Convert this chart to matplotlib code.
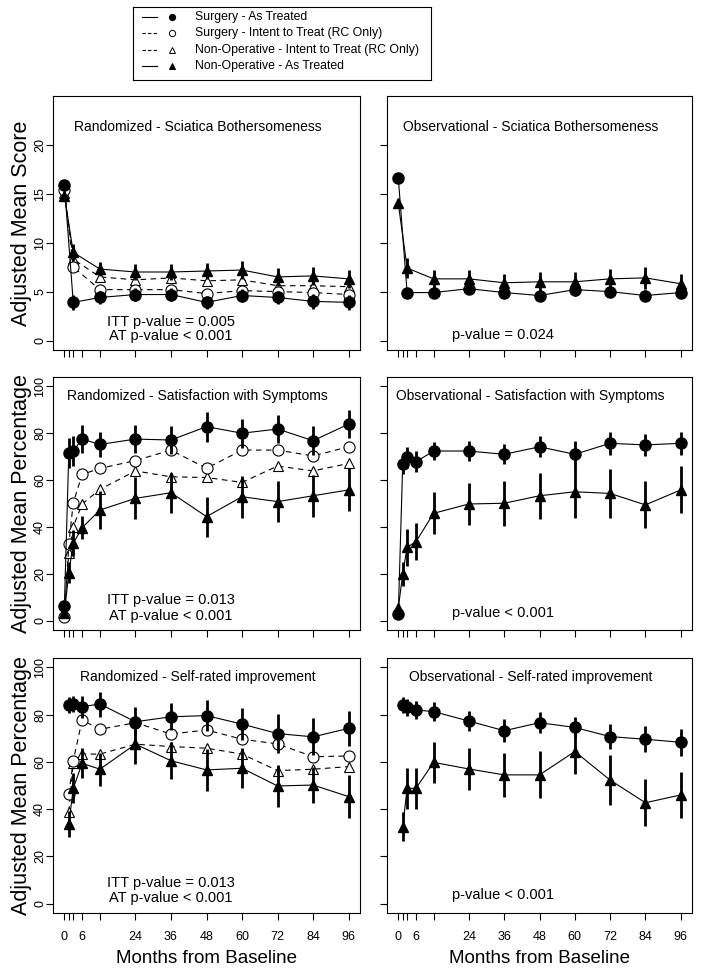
import matplotlib
matplotlib.use("Agg")
import matplotlib.pyplot as plt

plt.rcParams["font.family"] = ["Liberation Sans", "DejaVu Sans"]

# ── time points (months) ─────────────────────────────────────────────────────
MONTHS_SCI = [0, 3, 12, 24, 36, 48, 60, 72, 84, 96]
MONTHS_SAT = [0, 1.5, 3, 6, 12, 24, 36, 48, 60, 72, 84, 96]
MONTHS_IMP = [1.5, 3, 6, 12, 24, 36, 48, 60, 72, 84, 96]

XTICKS = [0, 1.5, 3, 6, 12, 24, 36, 48, 60, 72, 84, 96]
XTICK_LABELS = ["0", "", "", "6", "", "24", "36", "48", "60", "72", "84", "96"]

# ── randomized cohort: sciatica bothersomeness ──────────────────────────────
rs_surg_at = [15.9, 3.9, 4.4, 4.7, 4.7, 3.9, 4.6, 4.4, 4.0, 3.9]
rs_surg_at_err = [0.4, 0.8, 0.7, 0.7, 0.7, 0.7, 0.7, 0.7, 0.8, 0.8]
rs_surg_itt = [15.4, 7.5, 5.2, 5.2, 5.2, 4.8, 5.1, 5.0, 4.9, 4.7]
rs_nonop_itt = [15.1, 8.3, 6.5, 6.2, 6.4, 6.1, 6.2, 5.6, 5.6, 5.5]
rs_nonop_at = [14.8, 9.0, 7.3, 7.0, 7.0, 7.1, 7.2, 6.5, 6.6, 6.3]
rs_nonop_at_err = [0.4, 0.9, 0.7, 0.8, 0.8, 0.8, 0.9, 0.9, 0.9, 0.9]

# ── observational cohort: sciatica bothersomeness ───────────────────────────
os_surg = [16.6, 4.9, 4.9, 5.3, 4.9, 4.6, 5.2, 5.0, 4.6, 4.9]
os_surg_err = [0.3, 0.5, 0.5, 0.5, 0.5, 0.6, 0.6, 0.6, 0.6, 0.6]
os_nonop = [14.0, 7.4, 6.3, 6.3, 5.9, 6.0, 6.0, 6.3, 6.4, 5.8]
os_nonop_err = [0.5, 1.0, 0.9, 0.9, 0.9, 1.0, 1.0, 1.0, 1.1, 1.0]

# ── randomized cohort: satisfaction with symptoms ───────────────────────────
rsat_surg_at = [6.2, 71.7, 72.4, 77.5, 75.2, 77.5, 77.1, 82.8, 80.0, 81.8, 76.8, 83.9]
rsat_surg_at_err = [2.5, 6.4, 6.4, 6.0, 5.5, 6.0, 6.0, 6.4, 6.2, 6.0, 6.3, 6.0]
rsat_surg_itt = [1.7, 32.6, 50.3, 62.4, 65.0, 68.3, 72.8, 65.0, 72.8, 72.8, 70.3, 74.2]
rsat_nonop_itt = [3.8, 29.0, 40.1, 49.8, 56.0, 63.9, 61.4, 61.1, 59.0, 66.0, 63.9, 67.1]
rsat_nonop_at = [3.1, 20.5, 33.0, 39.7, 47.2, 52.2, 54.6, 44.4, 52.9, 50.8, 53.3, 55.8]
rsat_nonop_at_err = [2.0, 4.5, 5.5, 5.0, 8.2, 8.9, 8.6, 8.5, 8.9, 8.7, 8.9, 9.2]

# ── observational cohort: satisfaction with symptoms ────────────────────────
osat_surg = [2.8, 66.8, 69.7, 67.8, 72.4, 72.4, 71.0, 74.2, 71.0, 75.7, 75.0, 75.7]
osat_surg_err = [1.5, 4.0, 4.5, 4.5, 4.0, 4.3, 4.3, 4.5, 5.5, 4.8, 4.8, 4.8]
osat_nonop = [5.3, 19.9, 31.3, 33.7, 45.8, 49.8, 50.1, 53.3, 55.0, 54.3, 49.4, 55.8]
osat_nonop_err = [2.0, 5.3, 7.8, 8.0, 9.0, 9.1, 9.5, 9.8, 11.0, 10.5, 10.0, 10.0]

# ── randomized cohort: self-rated improvement ───────────────────────────────
rimp_surg_at = [84.1, 84.5, 83.4, 84.5, 77.0, 79.1, 79.6, 76.0, 72.0, 70.6, 74.2]
rimp_surg_at_err = [3.2, 3.2, 4.6, 5.3, 6.2, 5.8, 6.7, 6.9, 8.1, 7.8, 7.4]
rimp_surg_itt = [46.4, 60.5, 77.7, 73.8, 76.6, 71.8, 73.5, 69.6, 67.6, 62.2, 62.5]
rimp_nonop_itt = [38.9, 59.5, 63.3, 63.3, 67.5, 66.5, 65.8, 63.3, 56.3, 56.9, 58.0]
rimp_nonop_at = [33.7, 48.8, 59.4, 56.9, 67.5, 60.5, 56.6, 57.3, 49.8, 50.2, 45.3]
rimp_nonop_at_err = [5.3, 6.4, 6.4, 7.0, 8.5, 7.8, 8.8, 8.5, 8.8, 7.8, 9.2]

# ── observational cohort: self-rated improvement ────────────────────────────
oimp_surg = [84.1, 83.1, 82.0, 81.3, 77.3, 73.2, 76.6, 74.6, 70.7, 69.6, 68.3]
oimp_surg_err = [3.5, 3.5, 3.8, 4.0, 4.4, 4.8, 4.5, 4.5, 5.2, 5.4, 5.6]
oimp_nonop = [32.6, 48.8, 48.8, 59.8, 57.0, 54.5, 54.5, 64.4, 52.3, 42.7, 46.0]
oimp_nonop_err = [6.1, 8.8, 8.8, 8.8, 9.0, 9.3, 10.0, 9.5, 10.6, 9.9, 9.9]

LEGEND_LABELS = [
    "Surgery - As Treated",
    "Surgery - Intent to Treat (RC Only)",
    "Non-Operative - Intent to Treat (RC Only)",
    "Non-Operative - As Treated",
]


def at_series(ax, x, y, err, marker):
    ms = 8 if marker == "o" else 7.2
    ax.vlines(x, [a - e for a, e in zip(y, err)], [a + e for a, e in zip(y, err)],
              color="black", linewidth=2.0, zorder=3)
    ax.plot(x, y, color="black", linewidth=0.8, marker=marker, markersize=ms,
            markerfacecolor="black", markeredgecolor="black", zorder=4)


def itt_series(ax, x, y, marker, ms):
    ax.plot(x, y, color="black", linewidth=0.8, linestyle=(0, (5, 4)),
            marker=marker, markersize=ms, markerfacecolor="white",
            markeredgecolor="black", markeredgewidth=0.8, zorder=2)


def setup(ax, ylim, yticks, ylabel=None, xlabel=False):
    ax.set_xlim(-3.84, 99.84)
    ax.set_ylim(*ylim)
    ax.set_xticks(XTICKS)
    ax.set_xticklabels(XTICK_LABELS if xlabel else [""] * len(XTICKS))
    ax.set_yticks(yticks)
    if ylabel:
        ax.set_yticklabels([str(t) for t in yticks], rotation=90, va="center")
        ax.set_ylabel(ylabel, fontsize=15.5)
        ax.yaxis.set_label_coords(-0.07, 0.5)
    else:
        ax.set_yticklabels([""] * len(yticks))
    if xlabel:
        ax.set_xlabel("Months from Baseline", fontsize=13.5)
        ax.xaxis.set_label_coords(0.5, -0.145)
    ax.tick_params(direction="out", length=5, width=0.8, labelsize=9)
    ax.tick_params(axis="y", pad=0)
    ax.tick_params(axis="x", pad=8)
    for sp in ax.spines.values():
        sp.set_linewidth(0.8)


fig = plt.figure(figsize=(7.01, 9.72), dpi=100)
W, H = 701.0, 972.0
cols = [(53, 307), (387, 305)]
rows = [(96, 254), (377, 253), (658, 255)]
axes = [[fig.add_axes([c[0] / W, 1 - (r[0] + r[1]) / H, c[1] / W, r[1] / H])
         for c in cols] for r in rows]

sci_lim, sci_ticks = (-0.96, 24.96), [0, 5, 10, 15, 20]
pct_lim, pct_ticks = (-4, 104), [0, 20, 40, 60, 80, 100]

# ── row 1: sciatica bothersomeness ──────────────────────────────────────────
ax = axes[0][0]
itt_series(ax, MONTHS_SCI, rs_nonop_itt, "^", 6.8)
itt_series(ax, MONTHS_SCI, rs_surg_itt, "o", 8)
at_series(ax, MONTHS_SCI, rs_nonop_at, rs_nonop_at_err, "^")
at_series(ax, MONTHS_SCI, rs_surg_at, rs_surg_at_err, "o")
setup(ax, sci_lim, sci_ticks, ylabel="Adjusted Mean Score")
ax.text(45, 21.8, "Randomized - Sciatica Bothersomeness", ha="center", va="center", fontsize=10)
ax.text(36, 1.9, "ITT p-value = 0.005", ha="center", va="center", fontsize=10.5)
ax.text(36, 0.5, "AT p-value < 0.001", ha="center", va="center", fontsize=10.5)

ax = axes[0][1]
at_series(ax, MONTHS_SCI, os_nonop, os_nonop_err, "^")
at_series(ax, MONTHS_SCI, os_surg, os_surg_err, "o")
setup(ax, sci_lim, sci_ticks)
ax.text(45, 21.8, "Observational - Sciatica Bothersomeness", ha="center", va="center", fontsize=10)
ax.text(35.6, 0.6, "p-value = 0.024", ha="center", va="center", fontsize=10.5)

# ── row 2: satisfaction with symptoms ───────────────────────────────────────
ax = axes[1][0]
itt_series(ax, MONTHS_SAT, rsat_nonop_itt, "^", 6.8)
itt_series(ax, MONTHS_SAT, rsat_surg_itt, "o", 8)
at_series(ax, MONTHS_SAT, rsat_nonop_at, rsat_nonop_at_err, "^")
at_series(ax, MONTHS_SAT, rsat_surg_at, rsat_surg_at_err, "o")
setup(ax, pct_lim, pct_ticks, ylabel="Adjusted Mean Percentage")
ax.text(45, 96, "Randomized - Satisfaction with Symptoms", ha="center", va="center", fontsize=10)
ax.text(36, 8.8, "ITT p-value = 0.013", ha="center", va="center", fontsize=10.5)
ax.text(36, 1.9, "AT p-value < 0.001", ha="center", va="center", fontsize=10.5)

ax = axes[1][1]
at_series(ax, MONTHS_SAT, osat_nonop, osat_nonop_err, "^")
at_series(ax, MONTHS_SAT, osat_surg, osat_surg_err, "o")
setup(ax, pct_lim, pct_ticks)
ax.text(45, 96, "Observational - Satisfaction with Symptoms", ha="center", va="center", fontsize=10)
ax.text(35.6, 3.1, "p-value < 0.001", ha="center", va="center", fontsize=10.5)

# ── row 3: self-rated improvement ───────────────────────────────────────────
ax = axes[2][0]
itt_series(ax, MONTHS_IMP, rimp_nonop_itt, "^", 6.8)
itt_series(ax, MONTHS_IMP, rimp_surg_itt, "o", 8)
at_series(ax, MONTHS_IMP, rimp_nonop_at, rimp_nonop_at_err, "^")
at_series(ax, MONTHS_IMP, rimp_surg_at, rimp_surg_at_err, "o")
setup(ax, pct_lim, pct_ticks, ylabel="Adjusted Mean Percentage", xlabel=True)
ax.text(45, 96, "Randomized - Self-rated improvement", ha="center", va="center", fontsize=10)
ax.text(36, 8.6, "ITT p-value = 0.013", ha="center", va="center", fontsize=10.5)
ax.text(36, 2.2, "AT p-value < 0.001", ha="center", va="center", fontsize=10.5)

ax = axes[2][1]
at_series(ax, MONTHS_IMP, oimp_nonop, oimp_nonop_err, "^")
at_series(ax, MONTHS_IMP, oimp_surg, oimp_surg_err, "o")
setup(ax, pct_lim, pct_ticks, xlabel=True)
ax.text(45, 96, "Observational - Self-rated improvement", ha="center", va="center", fontsize=10)
ax.text(35.6, 3.6, "p-value < 0.001", ha="center", va="center", fontsize=10.5)

# ── legend box (drawn by hand, R-style: line, gap, marker, text) ─────────────
lax = fig.add_axes([133 / W, 1 - 80 / H, 298 / W, 73 / H])
lax.set_xlim(0, 298)
lax.set_ylim(73, 0)
lax.set_xticks([])
lax.set_yticks([])
for sp in lax.spines.values():
    sp.set_linewidth(0.8)
leg_styles = [("-", "o", "black"), ((0, (3, 2)), "o", "white"),
              ((0, (3, 2)), "^", "white"), ("-", "^", "black")]
for i, (label, (ls, mk, fc)) in enumerate(zip(LEGEND_LABELS, leg_styles)):
    yy = 10 + 16.3 * i
    lax.plot([9, 24], [yy, yy], color="black", linewidth=0.8, linestyle=ls)
    lax.plot([39], [yy], marker=mk, markersize=4.5, markerfacecolor=fc,
             markeredgecolor="black", markeredgewidth=0.7, linestyle="none")
    lax.text(62, yy, label, ha="left", va="center", fontsize=8.8)

fig.savefig("out.png", dpi=100)
